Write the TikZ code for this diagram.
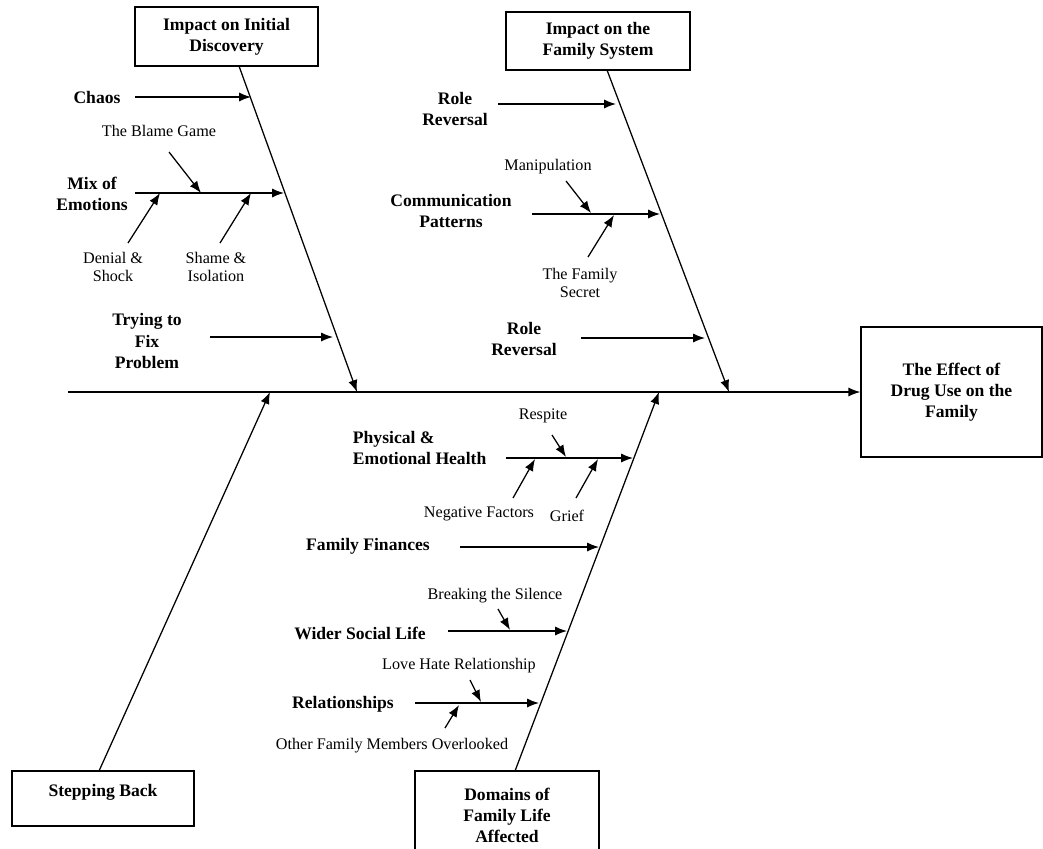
\documentclass[tikz,border=0pt]{standalone}
\usepackage{fontspec}
\setmainfont{Liberation Serif}
\usetikzlibrary{arrows.meta}
\newcommand\mainfnt{\fontsize{12.5}{15}\selectfont\bfseries}
\newcommand\subfnt{\fontsize{11.5}{12.8}\selectfont}

\begin{document}
\begin{tikzpicture}[x=0.025cm,y=-0.025cm,
  bone/.style={line width=0.9pt,-{Latex[length=8.5pt,width=6.5pt]}},
  box/.style={draw,line width=0.9pt,align=center,font=\mainfnt,inner sep=2pt},
  lbl/.style={align=center,font=\mainfnt},
  sub/.style={align=center,font=\subfnt}]
 \useasboundingbox (0,0) rectangle (1043,848);

 % head and spine
 \node (head) at (951.5,392) [box,minimum width=4.525cm,minimum height=3.25cm] {The Effect of\\Drug Use on the\\Family};
 \coordinate (tail) at (68,392);
 \draw[bone] (tail) -- (head);

 % main bones
 \node (disc) at (226.5,36.5) [box,minimum width=4.575cm,minimum height=1.475cm] {Impact on Initial\\Discovery};
 \node (sys) at (598,41) [box,minimum width=4.6cm,minimum height=1.45cm] {Impact on the\\Family System};
 \node (step) at (103,798.5) [box,minimum width=4.55cm,minimum height=1.375cm] {};
 \node (steptxt) at (103,792) [lbl] {Stepping Back};
 \node (dom) at (507,815.5) [box,minimum width=4.6cm,minimum height=2.225cm] {Domains of\\Family Life\\Affected};
 \coordinate (b1a) at (239,66);  \coordinate (b1b) at (357,392);
 \coordinate (b2a) at (607,70);  \coordinate (b2b) at (729,392);
 \coordinate (b3a) at (99,771);  \coordinate (b3b) at (270,392);
 \coordinate (b4a) at (515,771); \coordinate (b4b) at (659,392);
 \draw[bone] (b1a) -- (b1b);
 \draw[bone] (b2a) -- (b2b);
 \draw[bone] (b3a) -- (b3b);
 \draw[bone] (b4a) -- (b4b);

 % initial discovery
 \node (chaos) at (97,97) [lbl] {Chaos};
 \node (mix) at (92,194) [lbl] {Mix of\\Emotions};
 \node (blame) at (159,131) [sub] {The Blame Game};
 \node (denial) at (113,267) [sub] {Denial \&\\Shock};
 \node (shame) at (216,267) [sub] {Shame \&\\Isolation};
 \node (fix) at (147,341) [lbl] {Trying to\\Fix\\Problem};
 \coordinate (c1) at (135,97);  \coordinate (c2) at (251,97);
 \coordinate (m1) at (135,193); \coordinate (m2) at (284,193);
 \coordinate (bl1) at (169,152); \coordinate (bl2) at (201,193);
 \coordinate (de1) at (128,243); \coordinate (de2) at (160,193);
 \coordinate (sh1) at (220,243); \coordinate (sh2) at (251,193);
 \coordinate (f1) at (210,337); \coordinate (f2) at (333,337);
 \draw[bone] (c1) -- (c2);
 \draw[bone] (m1) -- (m2);
 \draw[bone] (bl1) -- (bl2);
 \draw[bone] (de1) -- (de2);
 \draw[bone] (sh1) -- (sh2);
 \draw[bone] (f1) -- (f2);

 % family system
 \node (role) at (455,109) [lbl] {Role\\Reversal};
 \node (comm) at (451,211) [lbl] {Communication\\Patterns};
 \node (manip) at (548,167) [sub] {Manipulation};
 \node (secret) at (580,283) [sub] {The Family\\Secret};
 \node (roles) at (524,339) [lbl] {Role\\Reversal};
 \coordinate (r1) at (498,104); \coordinate (r2) at (616,104);
 \coordinate (cp1) at (532,214); \coordinate (cp2) at (660,214);
 \coordinate (ma1) at (566,181); \coordinate (ma2) at (591,213);
 \coordinate (se1) at (588,257); \coordinate (se2) at (614,215);
 \coordinate (rs1) at (581,338); \coordinate (rs2) at (705,338);
 \draw[bone] (r1) -- (r2);
 \draw[bone] (cp1) -- (cp2);
 \draw[bone] (ma1) -- (ma2);
 \draw[bone] (se1) -- (se2);
 \draw[bone] (rs1) -- (rs2);

 % domains
 \node (health) at (348,448) [lbl,align=left,anchor=west] {Physical \&\\Emotional Health};
 \node (respite) at (543,416) [sub] {Respite};
 \node (neg) at (479,514) [sub] {Negative Factors};
 \node (grief) at (567,516) [sub] {Grief};
 \node (fin) at (368,546) [lbl] {Family Finances};
 \node (silence) at (495,596) [sub] {Breaking the Silence};
 \node (social) at (360,633) [lbl] {Wider Social Life};
 \node (lovehate) at (459,666) [sub] {Love Hate Relationship};
 \node (rel) at (343,704) [lbl] {Relationships};
 \node (other) at (392,746) [sub] {Other Family Members Overlooked};
 \coordinate (h1) at (506,458); \coordinate (h2) at (633,458);
 \coordinate (re1) at (552,435); \coordinate (re2) at (566,457);
 \coordinate (n1) at (513,498); \coordinate (n2) at (535,459);
 \coordinate (g1) at (576,498); \coordinate (g2) at (598,459);
 \coordinate (fi1) at (460,547); \coordinate (fi2) at (599,547);
 \coordinate (si1) at (498,609); \coordinate (si2) at (510,630);
 \coordinate (so1) at (448,631); \coordinate (so2) at (567,631);
 \coordinate (lh1) at (470,680); \coordinate (lh2) at (481,702);
 \coordinate (rl1) at (415,703); \coordinate (rl2) at (539,703);
 \coordinate (o1) at (445,728); \coordinate (o2) at (459,705);
 \draw[bone] (h1) -- (h2);
 \draw[bone] (re1) -- (re2);
 \draw[bone] (n1) -- (n2);
 \draw[bone] (g1) -- (g2);
 \draw[bone] (fi1) -- (fi2);
 \draw[bone] (si1) -- (si2);
 \draw[bone] (so1) -- (so2);
 \draw[bone] (lh1) -- (lh2);
 \draw[bone] (rl1) -- (rl2);
 \draw[bone] (o1) -- (o2);
\end{tikzpicture}
\end{document}
